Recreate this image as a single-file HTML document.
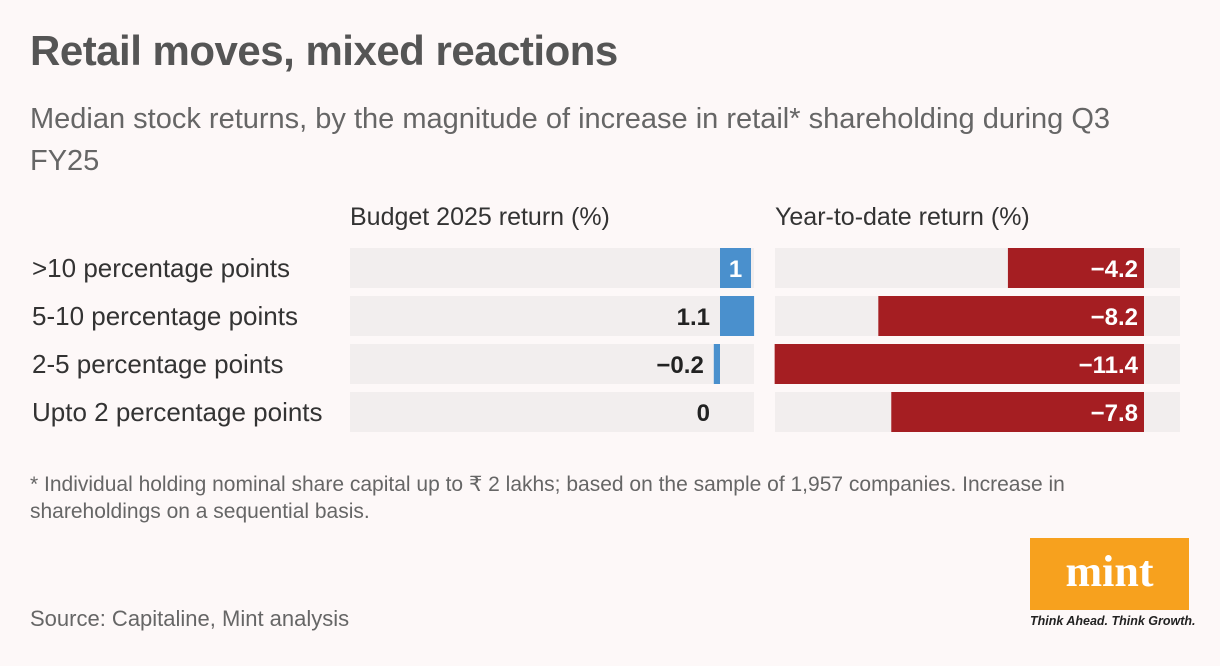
<!DOCTYPE html>
<html><head><meta charset="utf-8"><style>
body{margin:0;width:1220px;height:666px;background:#fdf8f8;font-family:"Liberation Sans",sans-serif;color:#555;overflow:hidden;position:relative}
.a{position:absolute;white-space:nowrap}
</style></head><body>
<div class="a" style="left:30px;top:27px;font-size:42px;font-weight:bold;color:#555;letter-spacing:-0.5px">Retail moves, mixed reactions</div>
<div class="a" style="left:30px;top:98px;font-size:29px;line-height:42px;white-space:normal;width:1140px;color:#666">Median stock returns, by the magnitude of increase in retail* shareholding during Q3 FY25</div>
<div class="a" style="left:350px;top:203px;font-size:25px;color:#333">Budget 2025 return (%)</div>
<div class="a" style="left:775px;top:203px;font-size:25px;color:#333">Year-to-date return (%)</div>
<svg id="ch" class="a" style="left:0;top:0" width="1220" height="666"></svg>
<div class="a" style="left:30px;top:471px;font-size:21px;line-height:27px;white-space:normal;width:1150px;color:#666">* Individual holding nominal share capital up to ₹ 2 lakhs; based on the sample of 1,957 companies. Increase in shareholdings on a sequential basis.</div>
<div class="a" style="left:30px;top:606px;font-size:22px;color:#666">Source: Capitaline, Mint analysis</div>
<div class="a" style="left:1030px;top:538px;width:159px;height:72px;background:#f7a11e;color:#fff;font-family:'Liberation Serif',serif;font-weight:bold;font-size:44px;text-align:center;line-height:68px">mint</div>
<div class="a" style="left:1030px;top:614px;font-size:12.5px;font-style:italic;font-weight:bold;color:#222">Think Ahead. Think Growth.</div>
<script>
const categories=[">10 percentage points","5-10 percentage points","2-5 percentage points","Upto 2 percentage points"];
const budgetValues=[1,1.1,-0.2,0];
const ytdValues=[-4.2,-8.2,-11.4,-7.8];
const NS="http://www.w3.org/2000/svg";
const svg=document.getElementById('ch');
function mk(t,a){const e=document.createElementNS(NS,t);for(const k in a)e.setAttribute(k,a[k]);svg.appendChild(e);return e;}
const rowY=i=>248+i*48, rowH=40;
const panels=[{vals:budgetValues,x0:350,x1:754,zero:720,color:"#4a90cd",name:"budget"},{vals:ytdValues,x0:775,x1:1180,zero:1144,color:"#a51e22",name:"ytd"}];
const scale=32.4;
categories.forEach((c,i)=>{
  const t=mk('text',{x:32,y:rowY(i)+29,'font-size':26,fill:'#333'});t.textContent=c;
  
  
});
panels.forEach(p=>{
  const sc=p.name==="budget"?31:scale;
  p.vals.forEach((v,i)=>{
    const y=rowY(i);
    const bg=mk('rect',{x:p.x0,y:y,width:p.x1-p.x0,height:rowH,fill:'#f2eeee'});
    
    
    const xv=p.zero+v*sc;
    const bx=Math.min(xv,p.zero),bw=Math.abs(xv-p.zero);
    const b=mk('rect',{x:bx,y:y,width:bw,height:rowH,fill:p.color});
    
    
    const lab=v<0?'−'+Math.abs(v):String(v);
    const fits=bw>lab.length*14+8;
    let tx,anchor,fill;
    if(fits&&v<0){tx=p.zero-6;anchor='end';fill='#fff';}
    else if(fits){tx=bx+bw/2;anchor='middle';fill='#fff';}
    else{tx=bx-10;anchor='end';fill='#222';}
    const t=mk('text',{x:tx,y:y+29,'font-size':24,'font-weight':'bold',fill:fill,'text-anchor':anchor});
    t.textContent=lab;
    
    
  });
});
</script>
</body></html>
